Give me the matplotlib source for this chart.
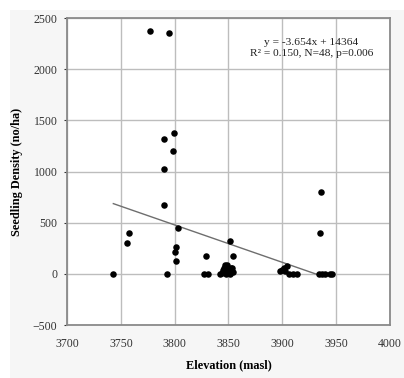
import matplotlib
matplotlib.use("Agg")
import matplotlib.pyplot as plt
from matplotlib.patches import Rectangle
import numpy as np

elevation = [3743, 3756, 3758, 3777, 3795, 3790, 3799, 3798, 3790, 3790, 3793,
             3803, 3801, 3800, 3801, 3829, 3827, 3831, 3851, 3854,
             3842, 3844, 3845, 3846, 3847, 3849, 3850, 3851, 3852, 3853, 3848, 3854,
             3898, 3900, 3902, 3904, 3906, 3910, 3914,
             3936, 3935, 3934, 3937, 3940, 3944, 3946, 3845, 3903]
density = [0, 300, 400, 2375, 2350, 1320, 1375, 1200, 1025, 675, 0,
           450, 260, 210, 125, 175, 0, 0, 325, 175,
           0, 10, 40, 60, 85, 85, 40, 0, 60, 60, 0, 20,
           25, 40, 60, 80, 0, 0, 0,
           800, 400, 0, 0, 0, 0, 0, 20, 30]
slope = -3.654
intercept = 14364
trend_x = [3743, 3935]
x_ticks = [3700, 3750, 3800, 3850, 3900, 3950, 4000]
y_ticks = [-500, 0, 500, 1000, 1500, 2000, 2500]

plt.rcParams['font.family'] = ['Liberation Serif', 'DejaVu Serif']
fig = plt.figure(figsize=(4.04, 3.78), dpi=100)
bg = Rectangle((10 / 404, 0), 1, 1 - 10 / 378, transform=fig.transFigure,
               facecolor='#f6f6f6', edgecolor='none', zorder=-10)
fig.patches.append(bg)
ax = fig.add_axes([0.166, 0.140, 0.799, 0.812])
ax.set_xlim(3700, 4000)
ax.set_ylim(-500, 2500)
ax.set_xticks(x_ticks)
ax.set_yticks(y_ticks)
ax.grid(True, color='#bdbdbd', lw=1.0)
ax.set_axisbelow(True)
for s in ax.spines.values():
    s.set_color('#8a8a8a')
    s.set_linewidth(1.3)
ax.tick_params(axis='both', labelsize=8.5, colors='#333333', length=2, width=0.8)
ax.tick_params(axis='y', pad=5)
ax.tick_params(axis='x', length=0, pad=9)

tx = np.array(trend_x)
ax.plot(tx, slope * tx + intercept, color='#6e6e6e', lw=1.0, zorder=2)
ax.scatter(elevation, density, s=22, color='black', zorder=3, linewidths=0)

ax.text(3927, 2210, "y = -3.654x + 14364\nR² = 0.150, N=48, p=0.006",
        ha='center', va='center', fontsize=8.2, linespacing=1.2, color='#222222')
ax.set_xlabel("Elevation (masl)", fontsize=8.8, fontweight='bold', labelpad=7)
ax.set_ylabel("Seedling Density (no/ha)", fontsize=8.8, fontweight='bold', labelpad=7)

fig.savefig("out.png", dpi=100)
